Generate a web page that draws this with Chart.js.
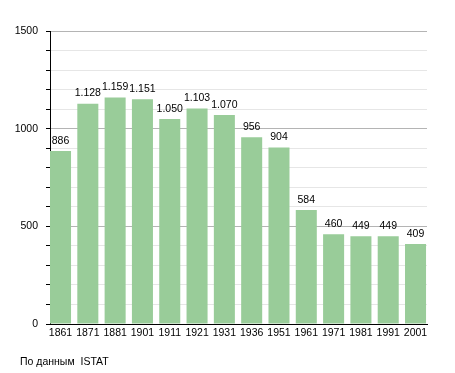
<!DOCTYPE html>
<html><head><meta charset="utf-8">
<script src="https://cdn.jsdelivr.net/npm/chart.js@4"></script>
<style>
body{margin:0;background:#fff}
#wrap{position:relative;width:455px;height:373px}
#src{position:absolute;left:20px;top:355px;font:10.5px "Liberation Sans",Arial,sans-serif;color:#000;white-space:pre}
</style>
</head><body>
<div id="wrap"><canvas id="c" width="455" height="373"></canvas><div id="src">По данным  ISTAT</div></div>
<script>
const years = ['1861','1871','1881','1901','1911','1921','1931','1936','1951','1961','1971','1981','1991','2001'];
const population = [886,1128,1159,1151,1050,1103,1070,956,904,584,460,449,449,409];
const yMax = 1500;
const yMajorStep = 500;
const yMinorStep = 100;

const FONT = {family:'"Liberation Sans", Arial, sans-serif', size:10.5};

function fmt(v){
  if (v >= 1000) return Math.floor(v/1000) + '.' + String(v % 1000).padStart(3,'0');
  return String(v);
}

const valueLabels = {
  id:'valueLabels',
  afterDatasetsDraw(chart){
    const ctx = chart.ctx;
    const meta = chart.getDatasetMeta(0);
    ctx.save();
    ctx.font = FONT.size + 'px ' + FONT.family;
    ctx.fillStyle = '#000';
    ctx.textAlign = 'center';
    ctx.textBaseline = 'bottom';
    meta.data.forEach((bar, i) => {
      ctx.fillText(fmt(population[i]), bar.x, bar.y - 5);
    });
    ctx.restore();
  }
};

new Chart(document.getElementById('c'), {
  type:'bar',
  data:{
    datasets:[{
      data: population.map((v,i)=>({x:i, y:v})),
      backgroundColor:'rgb(153,204,153)',
      borderWidth:0,
      barPercentage:0.77,
      categoryPercentage:1
    }]
  },
  options:{
    responsive:false,
    animation:false,
    devicePixelRatio:1,
    layout:{padding:{top:31, right:28, left:0, bottom:0}},
    plugins:{legend:{display:false}, tooltip:{enabled:false}},
    scales:{
      x:{
        type:'linear',
        offset:false,
        min:-0.385,
        max:13.42,
        afterFit(s){ s.height = 49; },
        afterBuildTicks(s){ s.ticks = years.map((_,i)=>({value:i})); },
        grid:{display:false, drawTicks:false, offset:false},
        border:{display:true, color:'#000', width:1},
        ticks:{
          autoSkip:false, maxRotation:0, padding:3,
          color:'#000', font:FONT,
          callback:(v)=>years[v]
        }
      },
      y:{
        min:0, max:yMax,
        afterFit(s){ s.width = 50; },
        border:{display:true, color:'#000', width:1},
        grid:{
          color:(c)=> (c.tick && c.tick.value % yMajorStep === 0) ? '#b4b4b4' : '#e6e6e6',
          tickColor:'#000',
          tickLength:4
        },
        ticks:{
          stepSize:yMinorStep, autoSkip:false, padding:8,
          color:'#000', font:FONT,
          callback:(v)=> v % yMajorStep === 0 ? String(v) : ''
        }
      }
    }
  },
  plugins:[valueLabels]
});
</script>
</body></html>
